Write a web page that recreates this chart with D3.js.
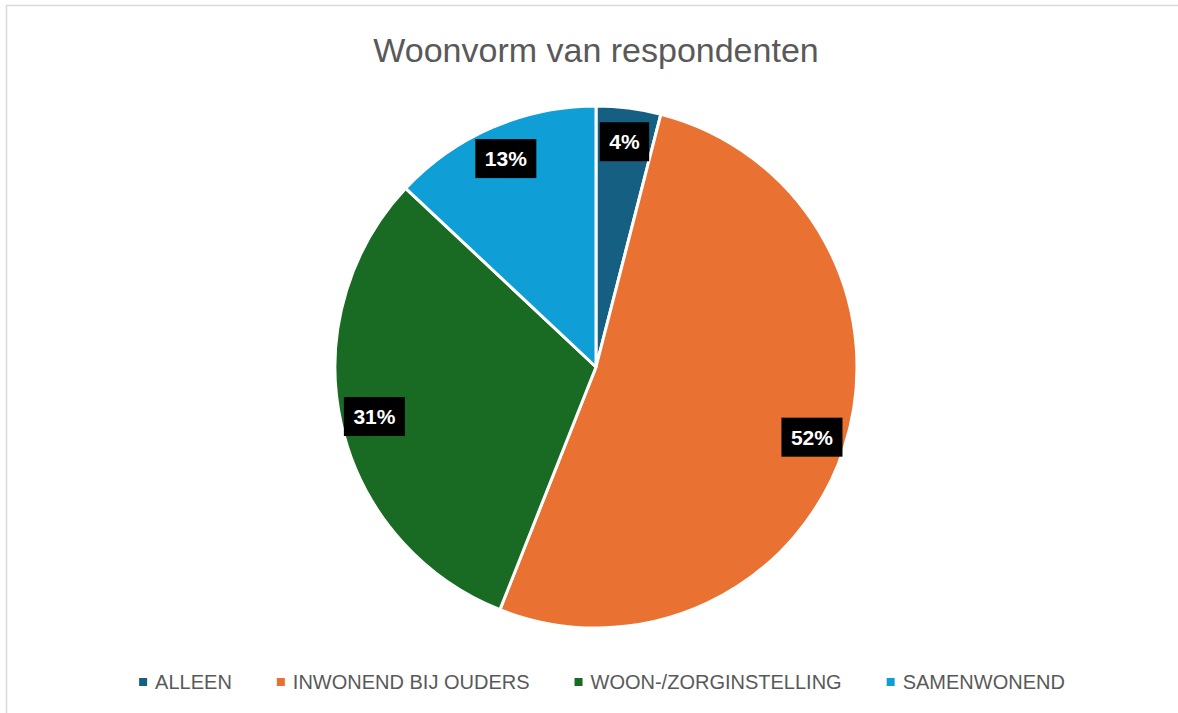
<!DOCTYPE html>
<html>
<head>
<meta charset="utf-8">
<title>Woonvorm van respondenten</title>
<script src="https://d3js.org/d3.v7.min.js"></script>
<style>
  body { margin: 0; background: #fff; }
  text { font-family: "Liberation Sans", Arial, sans-serif; }
</style>
</head>
<body>
<div id="chart"></div>
<script>
// data
var categories = ["ALLEEN", "INWONEND BIJ OUDERS", "WOON-/ZORGINSTELLING", "SAMENWONEND"];
var values = [4, 52, 31, 13];
var colors = ["#156082", "#E97132", "#196B24", "#0F9ED5"];
var title = "Woonvorm van respondenten";

var width = 1178, height = 713;
var cx = 596, cy = 367, radius = 261;

var svg = d3.select("#chart").append("svg")
    .attr("width", width)
    .attr("height", height);

// chart border (only top and left visible in the shot)
svg.append("rect")
    .attr("x", 6.5).attr("y", 5.5)
    .attr("width", width + 10).attr("height", height + 10)
    .attr("fill", "#fff")
    .attr("stroke", "#d9d9d9")
    .attr("stroke-width", 1.5);

svg.append("text")
    .attr("x", cx).attr("y", 62)
    .attr("text-anchor", "middle")
    .attr("font-size", "34px")
    .attr("fill", "#595959")
    .text(title);

var data = categories.map(function(c, i) { return { name: c, value: values[i] }; });
var color = d3.scaleOrdinal().domain(categories).range(colors);
var total = d3.sum(values);

var pie = d3.pie().value(function(d) { return d.value; }).sort(null);
var arc = d3.arc().innerRadius(0).outerRadius(radius);
var labelArc = d3.arc().innerRadius(radius * 0.87).outerRadius(radius * 0.87);

var g = svg.append("g").attr("transform", "translate(" + cx + "," + cy + ")");

g.selectAll("path.slice")
    .data(pie(data))
    .enter().append("path")
    .attr("class", "slice")
    .attr("d", arc)
    .attr("fill", function(d) { return color(d.data.name); })
    .attr("stroke", "#fff")
    .attr("stroke-width", 3)
    .attr("stroke-linejoin", "round");

// labels in black boxes
var lab = g.selectAll("g.lab")
    .data(pie(data))
    .enter().append("g")
    .attr("class", "lab")
    .attr("transform", function(d) { return "translate(" + labelArc.centroid(d) + ")"; });

lab.each(function(d) {
    var sel = d3.select(this);
    var t = sel.append("text")
        .attr("text-anchor", "middle")
        .attr("dy", "0.36em")
        .attr("font-size", "21px")
        .attr("font-weight", "bold")
        .attr("fill", "#fff")
        .text(Math.round(d.data.value / total * 100) + "%");
    var w = t.node().getComputedTextLength() + 19;
    sel.insert("rect", "text")
        .attr("x", -w / 2).attr("y", -19.5)
        .attr("width", w).attr("height", 39)
        .attr("fill", "#000");
});

// legend
var legend = svg.append("g");
var items = legend.selectAll("g")
    .data(categories)
    .enter().append("g");
items.append("rect")
    .attr("width", 8).attr("height", 8)
    .attr("y", -11)
    .attr("fill", function(d) { return color(d); });
items.append("text")
    .attr("x", 16)
    .attr("font-size", "20px")
    .attr("fill", "#595959")
    .text(function(d) { return d; });

var xpos = 0;
var offsets = [];
items.each(function() {
    offsets.push(xpos);
    xpos += 16 + d3.select(this).select("text").node().getComputedTextLength() + 45;
});
var legendWidth = xpos - 45;
items.attr("transform", function(d, i) { return "translate(" + offsets[i] + ",0)"; });
legend.attr("transform", "translate(" + (602 - legendWidth / 2) + ",689)");
</script>
</body>
</html>
